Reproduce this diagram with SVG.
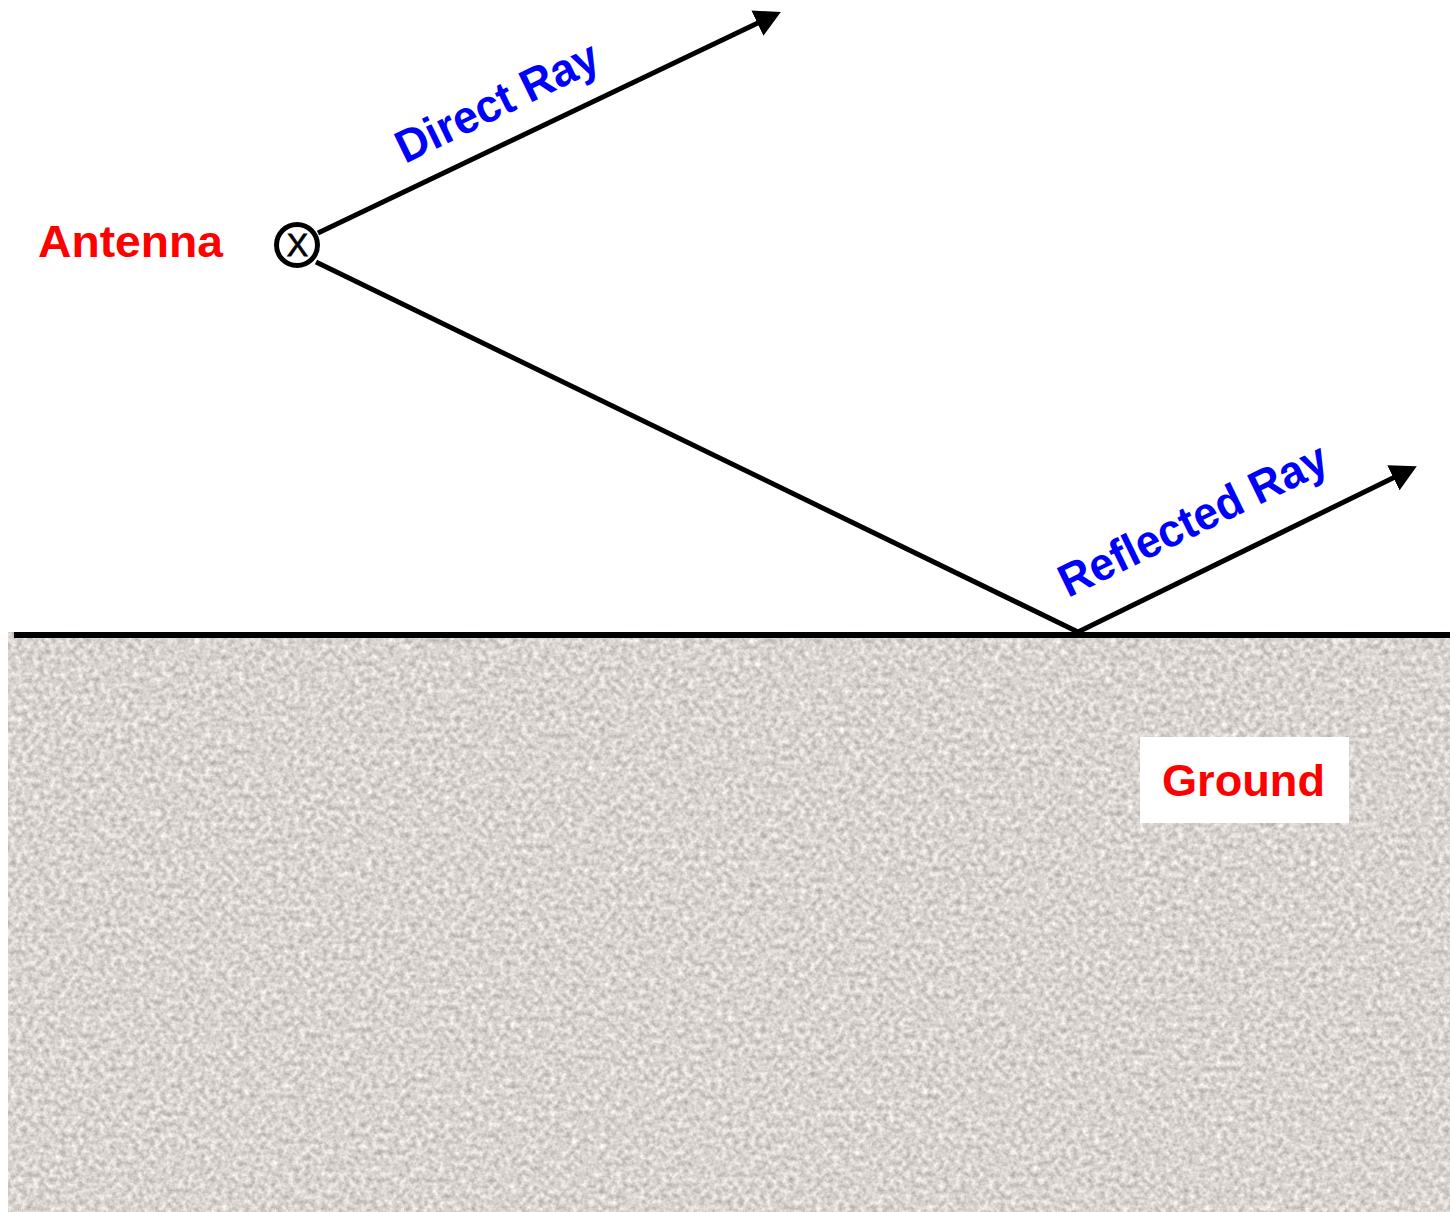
<svg xmlns="http://www.w3.org/2000/svg" width="1450" height="1212" viewBox="0 0 1450 1212">
  <style>
    .ray { fill: none; stroke: #000; stroke-width: 5; stroke-linejoin: miter; stroke-miterlimit: 20; }
    .lbl { font-family: "Liberation Sans", Arial, sans-serif; font-weight: bold; font-size: 44px; }
    .tilt { font-size: 46px; }
    .red { fill: #ff0000; }
    .blue { fill: #0000ff; }
  </style>
  <defs>
    <marker id="arrow" viewBox="0 0 26 28" refX="4" refY="14" markerWidth="26" markerHeight="28" markerUnits="userSpaceOnUse" orient="auto">
      <path d="M0,0 L26,14 L0,28 z" fill="#000"/>
    </marker>
    <!-- speckled stone texture for the ground -->
    <filter id="grain" x="0" y="0" width="1" height="1" color-interpolation-filters="sRGB">
      <feTurbulence type="fractalNoise" baseFrequency="0.18" numOctaves="3" seed="7" result="n"/>
      <feColorMatrix in="n" type="matrix" values="0.42 0 0 0 0.64  0.42 0 0 0 0.62  0.42 0 0 0 0.60  0 0 0 0 1"/>
    </filter>
  </defs>

  <rect width="1450" height="1212" fill="#ffffff"/>

  <g id="ground">
    <rect x="8" y="632" width="1442" height="580" fill="#d9d5d1"/>
    <rect x="8" y="632" width="1442" height="580" filter="url(#grain)"/>
    <line x1="14" y1="635" x2="1450" y2="635" stroke="#000" stroke-width="6"/>
  </g>

  <g id="connectors">
    <path id="direct-ray" class="ray" d="M318,233 L761,21.5" marker-end="url(#arrow)"/>
    <path id="reflected-ray" class="ray" d="M316,262 L1078,632 L1397,476" marker-end="url(#arrow)"/>
  </g>

  <g id="antenna">
    <circle cx="297" cy="245" r="20.5" fill="#fff" stroke="#000" stroke-width="5"/>
    <text x="297.5" y="256" text-anchor="middle" font-family="Liberation Sans, Arial, sans-serif" font-size="32" fill="#000" stroke="#000" stroke-width="0.8">X</text>
    <text class="lbl red" x="38" y="257" textLength="185" lengthAdjust="spacingAndGlyphs">Antenna</text>
  </g>

  <g id="direct-label">
    <text class="lbl tilt blue" transform="translate(405,164) rotate(-26)" textLength="220" lengthAdjust="spacingAndGlyphs">Direct Ray</text>
  </g>

  <g id="reflected-label">
    <text class="lbl tilt blue" transform="translate(1068,598) rotate(-26)" textLength="293" lengthAdjust="spacingAndGlyphs">Reflected Ray</text>
  </g>

  <g id="ground-label">
    <rect x="1140" y="737" width="209" height="86" fill="#ffffff"/>
    <text class="lbl red" x="1162" y="796" textLength="163" lengthAdjust="spacingAndGlyphs">Ground</text>
  </g>
</svg>
